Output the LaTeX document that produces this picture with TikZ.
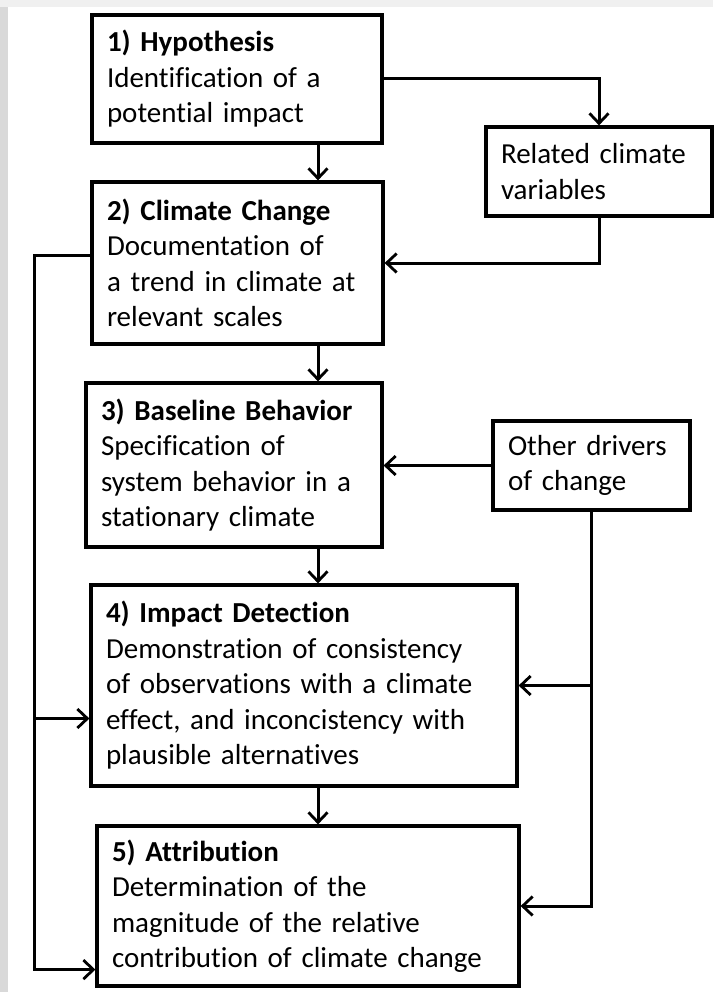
\documentclass[tikz,border=0pt]{standalone}
\usepackage{fontspec}
\setmainfont{Carlito}[Ligatures=NoCommon]
\usetikzlibrary{arrows.meta}
\newcommand\stagefont{\fontsize{29}{35.5}\selectfont\spaceskip 9pt plus 2pt minus 1pt\relax}
\tikzset{
    stage/.style = {rectangle, draw=black, fill=white, line width=3.2pt, inner xsep=15pt, inner ysep=0pt,
                    align=left, text=black, font=\stagefont},
    flow/.style = {-{Straight Barb[length=10pt,width=19pt,line width=2.8pt]}, line width=3pt},
    >=Straight Barb
}

\begin{document}
\begin{tikzpicture}[x=1pt,y=-1pt]
        \useasboundingbox (0,0) rectangle (713,992);
        %% background
        \fill[gray!30] (0,0) rectangle (713,992);
        \fill[gray!12] (0,0) rectangle (713,7);
        \fill[white] (8,7) rectangle (713,992);

        \coordinate (spine) at (318,0);
        \coordinate (lft) at (34,0);

        %% Steps
        \node[stage, text width=260, minimum height=128] (s1) at (237,79)
            {\textbf{1) Hypothesis}\\Identification of a\\potential impact};
        \node[stage, text width=261, minimum height=162] (s2) at (237.5,263)
            {\textbf{2) Climate Change}\\Documentation of\\a trend in climate at\\relevant scales};
        \node[stage, text width=266, minimum height=164] (s3) at (234,465)
            {\textbf{3) Baseline Behavior}\\Specification of\\system behavior in a\\stationary climate};
        \node[stage, text width=396, minimum height=201] (s4) at (304,685.5)
            {\textbf{4) Impact Detection}\\Demonstration of consistency\\of observations with a climate\\effect, and inconcistency with\\plausible alternatives};
        \node[stage, text width=392, minimum height=160] (s5) at (308,906)
            {\textbf{5) Attribution}\\Determination of the\\magnitude of the relative\\contribution of climate change};

        %% Side boxes
        \node[stage, text width=196, minimum height=89] (rel) at (599,171.5)
            {Related climate\\variables};
        \node[stage, text width=167, minimum height=89] (oth) at (591.5,465.5)
            {Other drivers\\of change};

        \coordinate (c4) at ([yshift=-33pt]s4.west);
        \coordinate (c5) at ([yshift=18pt]s5.south west);

        %% Main sequence
        \draw[flow] (s1.south -| spine) -- (s2.north -| spine);
        \draw[flow] (s2.south -| spine) -- (s3.north -| spine);
        \draw[flow] (s3.south -| spine) -- (s4.north -| spine);
        \draw[flow] (s4.south -| spine) -- (s5.north -| spine);

        %% Related variables
        \draw[flow] (s1.east) -| (rel.north);
        \draw[flow] (rel.south) |- (s2.east);

        %% Other drivers
        \draw[flow] (oth.west) -- (oth.west -| s3.east);
        \draw[flow] (oth.south) |- (s5.east);
        \draw[flow] (oth.south |- s4.east) -- (s4.east);

        %% Feedback on the left
        \draw[flow] ([yshift=8pt]s2.west) -| (c5 -| lft) -- (c5);
        \draw[flow] (c4 -| lft) -- (c4);
\end{tikzpicture}
\end{document}
